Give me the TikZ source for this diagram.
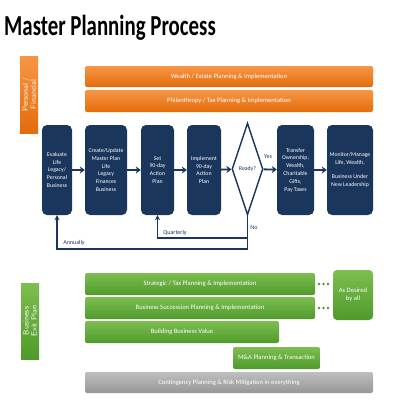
\documentclass[tikz,border=0pt]{standalone}
\usepackage{fontspec}
\setmainfont{Carlito}
\usetikzlibrary{shapes.geometric,arrows.meta}
\definecolor{navy}{HTML}{1B365D}
\definecolor{orA}{HTML}{F79646}
\definecolor{orB}{HTML}{E36C0A}
\definecolor{grA}{HTML}{7DBE4F}
\definecolor{grB}{HTML}{4F9A2C}
\definecolor{gyA}{HTML}{BFBFBF}
\definecolor{gyB}{HTML}{969696}
\tikzset{
  stepbox/.style={draw=none, fill=navy, rounded corners=5pt, text=white, align=center,
    font=\fontsize{5.8}{7.8}\selectfont, inner sep=1pt, minimum height=90pt},
  obar/.style={rounded corners=2pt, top color=orA, bottom color=orB, text=white,
    font=\fontsize{6.6}{8}\selectfont, inner sep=0pt, minimum height=21pt},
  gbar/.style={rounded corners=2pt, top color=grA, bottom color=grB, text=white,
    font=\fontsize{6.6}{8}\selectfont, inner sep=0pt, minimum height=22pt},
  ybar/.style={rounded corners=2pt, top color=gyA, bottom color=gyB, text=white,
    font=\fontsize{6.6}{8}\selectfont, inner sep=0pt, minimum height=21pt},
  side/.style={inner sep=0pt, text=white, align=center, rotate=90,
    font=\fontsize{7.5}{8}\selectfont\sffamily},
  flow/.style={draw=navy, line width=1.8pt, -{Stealth[length=5pt,width=7pt]}},
  loop/.style={draw=navy, line width=1.2pt},
  lbl/.style={text=navy, font=\fontsize{6}{7}\selectfont, inner sep=0pt},
}
\begin{document}
\begin{tikzpicture}[x=1pt,y=-1pt]
\useasboundingbox (0,0) rectangle (400,400);
\fill[white] (0,0) rectangle (400,400);
% title
\node[anchor=base west, inner sep=0pt, font=\fontsize{29}{30}\selectfont\bfseries] (title) at (4,35) {\scalebox{0.72}[1]{Master Planning Process}};
% side labels
\node[side, minimum width=77pt, minimum height=18pt, top color=orA, bottom color=orB] (pf) at (29,94.5) {Personal /\\Financial};
\node[side, minimum width=76pt, minimum height=18pt, top color=grA, bottom color=grB] (bx) at (30,321) {Business\\Exit Plan};
% orange bars
\node[obar, minimum width=288pt] (wealth) at (229,76.5) {Wealth / Estate Planning \& Implementation};
\node[obar, minimum width=288pt, minimum height=22pt] (phil) at (229,101) {Philanthropy / Tax Planning \& Implementation};
% process
\node[stepbox, minimum width=30pt] (b1) at (57,170) {Evaluate\\Life\\Legacy/\\Personal\\Business};
\node[stepbox, minimum width=42pt] (b2) at (106,170) {Create/Update\\Master Plan\\Life\\Legacy\\Finances\\Business};
\node[stepbox, minimum width=33pt] (b3) at (157.5,170) {Set\\90-day\\Action\\Plan};
\node[stepbox, minimum width=34pt] (b4) at (204,170) {Implement\\90-day\\Action\\Plan};
\node[diamond, draw=navy, line width=1.4pt, fill=white, minimum width=31pt, minimum height=92pt,
  inner sep=0pt, aspect=0.34, text=navy, font=\fontsize{5.8}{7}\selectfont] (ready) at (247.5,169) {Ready?};
\node[stepbox, minimum width=37pt] (b5) at (295.5,170) {Transfer\\Ownership,\\Wealth,\\Charitable\\Gifts,\\Pay Taxes};
\node[stepbox, minimum width=46pt] (b6) at (350,170) {Monitor/Manage\\Life, Wealth,\\[7pt]Business Under\\New Leadership};
\draw[flow] (b1) -- (b2);
\draw[flow] (b2) -- (b3);
\draw[flow] (b3) -- (b4);
\draw[flow] (b4) -- (ready);
\draw[flow] (ready) -- (b5);
\draw[flow] (b5) -- (b6);
\node[lbl] (yes) at (268,157) {Yes};
% loops
\coordinate (nb) at (247.5,249);
\coordinate (nq) at (247.5,238);
\draw[loop] (ready.south) -- (nb);
\draw[loop, -{Stealth[length=5pt,width=5pt]}] (nb) -| (b1.south);
\draw[loop, -{Stealth[length=5pt,width=5pt]}] (nq) -| (b3.south);
\node[lbl] (no) at (254,228) {No};
\node[lbl] (qt) at (175,233) {Quarterly};
\node[lbl] (an) at (74,243) {Annually};
% green bars
\node[gbar, minimum width=230pt] (strat) at (200,284) {Strategic / Tax Planning \& Implementation};
\node[gbar, minimum width=230pt] (succ) at (200,308) {Business Succession Planning \& Implementation};
\node[gbar, minimum width=194pt] (value) at (182,332) {Building Business Value};
\node[gbar, minimum width=87pt] (mna) at (276.5,358) {M\&A Planning \& Transaction};
\node[ybar, minimum width=288pt] (cont) at (229,382.5) {Contingency Planning \& Risk Mitigation in everything};
\node[gbar, minimum width=40pt, minimum height=50pt, align=center, rounded corners=4pt] (desired) at (353,295) {As Desired\\by all};
\foreach \yy in {284,308}{
  \foreach \xx in {319,323.5,328}{
    \fill[grB] (\xx,\yy) circle (1.4pt);
  }
}
\end{tikzpicture}
\end{document}
